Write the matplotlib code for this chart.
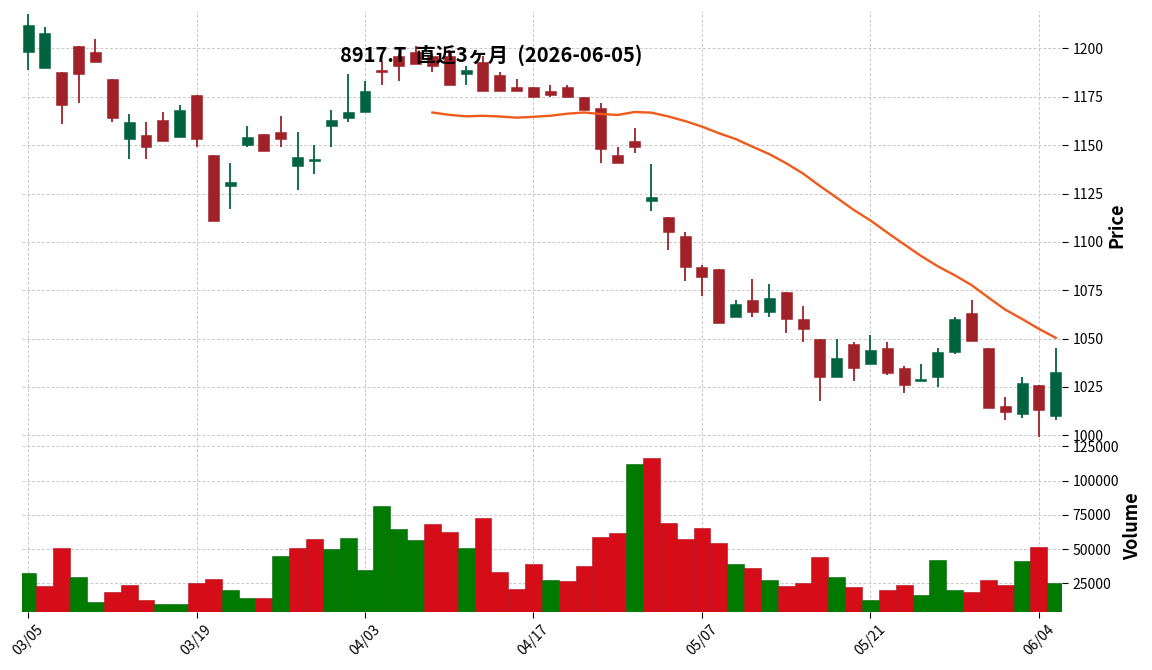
import numpy as np
import pandas as pd
import matplotlib
matplotlib.use('Agg')
import matplotlib.pyplot as plt

plt.rcParams['font.family'] = ['Noto Sans CJK JP', 'DejaVu Sans']

# --- data (8917.T, last ~3 months)
holidays = ['2026-03-20', '2026-04-29', '2026-05-04', '2026-05-05', '2026-05-06']
dates = pd.bdate_range('2026-03-05', '2026-06-05', freq='C', holidays=holidays)

opens = [1198, 1190, 1188, 1201, 1198, 1184, 1153, 1155, 1163, 1154,
         1176, 1145, 1129, 1150, 1156, 1157, 1139, 1142, 1160, 1164,
         1167, 1188, 1196, 1198, 1196, 1196, 1187, 1193, 1186, 1180,
         1180, 1178, 1180, 1175, 1169, 1145, 1152, 1121, 1113, 1103,
         1087, 1086, 1061, 1070, 1064, 1074, 1060, 1050, 1030, 1047,
         1037, 1045, 1035, 1028, 1030, 1043, 1063, 1045, 1015, 1011,
         1026, 1010]
highs = [1218, 1211, 1188, 1201, 1205, 1184, 1166, 1162, 1167, 1171,
         1176, 1145, 1141, 1160, 1156, 1165, 1157, 1150, 1168, 1187,
         1183, 1193, 1197, 1201, 1197, 1199, 1191, 1196, 1188, 1184,
         1180, 1181, 1181, 1175, 1172, 1149, 1159, 1140, 1113, 1105,
         1088, 1086, 1070, 1081, 1078, 1074, 1067, 1050, 1050, 1048,
         1052, 1048, 1036, 1037, 1045, 1061, 1070, 1045, 1020, 1030,
         1026, 1045]
lows = [1189, 1190, 1161, 1172, 1193, 1162, 1143, 1143, 1152, 1154,
        1149, 1111, 1117, 1149, 1147, 1149, 1127, 1135, 1149, 1162,
        1167, 1181, 1183, 1192, 1188, 1181, 1181, 1178, 1178, 1178,
        1175, 1175, 1175, 1168, 1141, 1141, 1146, 1116, 1096, 1080,
        1072, 1058, 1061, 1061, 1061, 1053, 1048, 1018, 1030, 1028,
        1037, 1031, 1022, 1028, 1025, 1042, 1049, 1014, 1008, 1009,
        999, 1008]
closes = [1212, 1208, 1171, 1187, 1193, 1164, 1162, 1149, 1152, 1168,
          1153, 1111, 1131, 1154, 1147, 1153, 1144, 1143, 1163, 1167,
          1178, 1188, 1191, 1192, 1191, 1181, 1189, 1178, 1178, 1178,
          1175, 1176, 1175, 1168, 1148, 1141, 1149, 1123, 1105, 1087,
          1082, 1058, 1068, 1064, 1071, 1060, 1055, 1030, 1040, 1035,
          1044, 1032, 1026, 1029, 1043, 1060, 1049, 1014, 1012, 1027,
          1013, 1033]
volumes = [32400, 23000, 51200, 29500, 11500, 18700, 23700, 12900, 10000, 10000,
           25200, 28100, 20200, 14400, 14400, 44700, 51200, 57700, 50500, 58400,
           34600, 81500, 64900, 57000, 68500, 62700, 51200, 72800, 33200, 20900,
           38900, 27300, 26500, 38000, 59000, 62000, 111900, 116300, 69200, 57600,
           65600, 54700, 39500, 36600, 27200, 22800, 25000, 44600, 29400, 22100,
           12700, 19900, 23600, 16300, 42400, 19900, 18500, 27200, 23600, 41700,
           51800, 25700]

# double spaces: the original font had wider half-width spaces
title = '8917.T  直近3ヶ月  (2026-06-05)'

# --- styles
up_c, down_c = '#006340', '#a02128'
vup_c, vdown_c = '#007a00', '#d50d18'
ma_c = '#f05a1a'
grid_kw = dict(color='#c8c8c8', linestyle=(0, (3, 2)), linewidth=0.7)

o = np.array(opens, float)
h = np.array(highs, float)
l = np.array(lows, float)
c = np.array(closes, float)
v = np.array(volumes, float)
x = np.arange(len(dates))
ma25 = pd.Series(c).rolling(25).mean()

fig = plt.figure(figsize=(11.52, 6.70), dpi=100)
ax = fig.add_axes([0.0188, 0.343, 0.9032, 0.6405])
axv = fig.add_axes([0.0188, 0.0866, 0.9032, 0.2564], sharex=ax)

# candles
is_up = c > o
cols = np.where(is_up, up_c, down_c)
ax.vlines(x, l, h, colors=cols, linewidth=1.3, zorder=2)
body_lo = np.minimum(o, c)
body_h = np.maximum(np.abs(c - o), 0.8)
ax.bar(x, body_h, bottom=body_lo, width=0.65, color=cols, edgecolor=cols, linewidth=0.4, zorder=3)

# moving average (25 days)
ax.plot(x, ma25, color=ma_c, linewidth=1.7, zorder=4)

# volume, coloured by close vs previous close
prev = np.concatenate([[o[0]], c[:-1]])
vcols = np.where(c > prev, vup_c, vdown_c)
vedge = np.where(c > prev, '#006600', '#b00c16')
axv.bar(x, v, width=1.0, color=vcols, edgecolor=vedge, linewidth=0.4, zorder=2)

for a in (ax, axv):
    for s in a.spines.values():
        s.set_visible(False)
    a.grid(True, **grid_kw)
    a.set_axisbelow(True)
    a.yaxis.tick_right()
    a.yaxis.set_label_position('right')
    a.tick_params(axis='both', labelsize=10, length=4, width=0.8, colors='black')

ax.set_xlim(-0.38, 61.38)
ax.set_ylim(997.5, 1219.3)
ax.set_yticks(np.arange(1000, 1201, 25))
ax.set_ylabel('Price', fontsize=13, fontweight='bold', labelpad=3)
ax.tick_params(axis='x', labelbottom=False, length=0)

axv.set_ylim(4200, 129500)
axv.set_yticks([25000, 50000, 75000, 100000, 125000])
axv.set_ylabel('Volume', fontsize=13, fontweight='bold', labelpad=3)
tick_idx = x[::10]
axv.set_xticks(tick_idx)
axv.set_xticklabels([dates[i].strftime('%m/%d') for i in tick_idx], rotation=45, ha='center')

fig.text(0.426, 0.917, title, ha='center', va='center', fontsize=14.5, fontweight='bold')

fig.savefig('out.png', dpi=100)
